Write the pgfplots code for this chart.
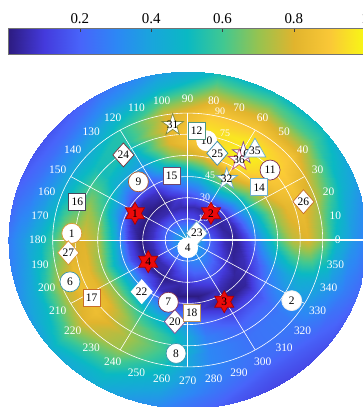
\documentclass[border=0pt]{standalone}
\usepackage{fontspec}
\setmainfont{Liberation Serif}
\usepackage{pgfplots}
\pgfplotsset{compat=1.18}
\usepackage{pgfplotstable}

\pgfplotsset{colormap={parulaimg}{
rgb255(0cm)=(45,28,130); rgb255(1cm)=(68,58,220); rgb255(2cm)=(72,100,250);
rgb255(3cm)=(45,135,245); rgb255(4cm)=(25,165,220); rgb255(5cm)=(10,185,195);
rgb255(6cm)=(65,200,145); rgb255(7cm)=(150,195,80); rgb255(8cm)=(225,180,45);
rgb255(9cm)=(250,200,55); rgb255(10cm)=(248,248,20)}}

\definecolor{eOlive}{RGB}{130,140,60}
\definecolor{eTeal}{RGB}{80,150,130}
\definecolor{eBlue}{RGB}{60,140,170}
\definecolor{eLBlue}{RGB}{110,175,205}
\definecolor{eMaroon}{RGB}{130,50,80}
\definecolor{ePink}{RGB}{200,90,130}
\definecolor{ePurple}{RGB}{130,80,150}
\definecolor{eOrange}{RGB}{200,110,40}
\definecolor{eBrown}{RGB}{170,90,50}
\definecolor{eWine}{RGB}{120,50,60}
\definecolor{eDark}{RGB}{70,70,90}
\definecolor{eGold}{RGB}{220,150,50}
\definecolor{eCyan}{RGB}{60,150,170}
\definecolor{eTan}{RGB}{190,150,90}
\definecolor{eViolet}{RGB}{110,70,110}
\definecolor{hexRed}{RGB}{235,10,10}
\definecolor{hexEdge}{RGB}{170,0,0}

\newcommand\numfont{\fontsize{11.5}{11.5}\selectfont}
\newcommand\anglefont{\fontsize{11.5}{11.5}\selectfont}
\newcommand\rfont{\fontsize{10}{10}\selectfont}
\newcommand\cbfont{\fontsize{15}{15}\selectfont}

\pgfdeclareplotmark{pent*}{%
  \pgfpathmoveto{\pgfpointpolar{90}{\pgfplotmarksize}}%
  \pgfpathlineto{\pgfpointpolar{126}{0.382\pgfplotmarksize}}%
  \pgfpathlineto{\pgfpointpolar{162}{\pgfplotmarksize}}%
  \pgfpathlineto{\pgfpointpolar{198}{0.382\pgfplotmarksize}}%
  \pgfpathlineto{\pgfpointpolar{234}{\pgfplotmarksize}}%
  \pgfpathlineto{\pgfpointpolar{270}{0.382\pgfplotmarksize}}%
  \pgfpathlineto{\pgfpointpolar{306}{\pgfplotmarksize}}%
  \pgfpathlineto{\pgfpointpolar{342}{0.382\pgfplotmarksize}}%
  \pgfpathlineto{\pgfpointpolar{18}{\pgfplotmarksize}}%
  \pgfpathlineto{\pgfpointpolar{54}{0.382\pgfplotmarksize}}%
  \pgfpathclose\pgfusepathqfillstroke}
\pgfdeclareplotmark{hex*}{%
  \pgfpathmoveto{\pgfpointpolar{90}{\pgfplotmarksize}}%
  \pgfpathlineto{\pgfpointpolar{120}{0.577\pgfplotmarksize}}%
  \pgfpathlineto{\pgfpointpolar{150}{\pgfplotmarksize}}%
  \pgfpathlineto{\pgfpointpolar{180}{0.577\pgfplotmarksize}}%
  \pgfpathlineto{\pgfpointpolar{210}{\pgfplotmarksize}}%
  \pgfpathlineto{\pgfpointpolar{240}{0.577\pgfplotmarksize}}%
  \pgfpathlineto{\pgfpointpolar{270}{\pgfplotmarksize}}%
  \pgfpathlineto{\pgfpointpolar{300}{0.577\pgfplotmarksize}}%
  \pgfpathlineto{\pgfpointpolar{330}{\pgfplotmarksize}}%
  \pgfpathlineto{\pgfpointpolar{0}{0.577\pgfplotmarksize}}%
  \pgfpathlineto{\pgfpointpolar{30}{\pgfplotmarksize}}%
  \pgfpathlineto{\pgfpointpolar{60}{0.577\pgfplotmarksize}}%
  \pgfpathclose\pgfusepathqfillstroke}
\pgfdeclareplotmark{diam*}{%
  \pgfpathmoveto{\pgfqpoint{0pt}{\pgfplotmarksize}}%
  \pgfpathlineto{\pgfqpoint{0.88\pgfplotmarksize}{0pt}}%
  \pgfpathlineto{\pgfqpoint{0pt}{-\pgfplotmarksize}}%
  \pgfpathlineto{\pgfqpoint{-0.88\pgfplotmarksize}{0pt}}%
  \pgfpathclose\pgfusepathqfillstroke}

% shape, size, edge, fill, theta, r, label
\newcommand{\mk}[7]{%
\addplot[only marks, data cs=polar, mark=#1, mark size=#2bp, draw=#3, fill=#4, line width=0.7bp, mark options={solid}, forget plot] coordinates {(#5,#6)};
\addplot[only marks, data cs=polar, mark=text, text mark={#7}, text mark as node=true, text mark style={font=\numfont, text=black, inner sep=0pt}, color=black, forget plot] coordinates {(#5,#6)};
}

% polar heat field: angle t (deg), radius r, value v
\pgfplotstableread{
t r v
0 0 .45
0 8 .35
0 16 .18
0 24 .06
0 32 .02
0 40 .13
0 50 .38
0 60 .60
0 70 .75
0 80 .80
0 90 .68
0 100 .47
0 110 .35
0 122 .25
20 0 .45
20 8 .33
20 16 .13
20 24 .03
20 32 .06
20 40 .25
20 50 .50
20 60 .70
20 70 .82
20 80 .85
20 90 .75
20 100 .60
20 110 .45
20 122 .35
40 0 .45
40 8 .32
40 16 .10
40 24 .03
40 32 .12
40 40 .35
40 50 .62
40 60 .82
40 70 .90
40 80 .92
40 90 .88
40 100 .75
40 110 .60
40 122 .48
60 0 .45
60 8 .32
60 16 .09
60 24 .03
60 32 .20
60 40 .48
60 50 .75
60 60 .95
60 70 1.0
60 80 .97
60 90 .90
60 100 .80
60 110 .65
60 122 .48
80 0 .45
80 8 .32
80 16 .13
80 24 .05
80 32 .18
80 40 .35
80 50 .55
80 60 .80
80 70 .92
80 80 .95
80 90 .90
80 100 .80
80 110 .65
80 122 .50
100 0 .45
100 8 .32
100 16 .14
100 24 .05
100 32 .10
100 40 .25
100 50 .40
100 60 .68
100 70 .80
100 80 .82
100 90 .78
100 100 .62
100 110 .45
100 122 .35
120 0 .45
120 8 .33
120 16 .15
120 24 .05
120 32 .01
120 40 .08
120 50 .22
120 60 .35
120 70 .45
120 80 .55
120 90 .55
120 100 .45
120 110 .32
120 122 .22
140 0 .45
140 8 .33
140 16 .18
140 24 .05
140 32 .0
140 40 .04
140 50 .22
140 60 .42
140 70 .52
140 80 .52
140 90 .42
140 100 .32
140 110 .22
140 122 .15
160 0 .45
160 8 .33
160 16 .20
160 24 .07
160 32 .0
160 40 .06
160 50 .35
160 60 .60
160 70 .70
160 80 .58
160 90 .46
160 100 .34
160 110 .25
160 122 .18
180 0 .45
180 8 .33
180 16 .20
180 24 .07
180 32 .0
180 40 .12
180 50 .48
180 60 .72
180 70 .80
180 80 .78
180 90 .60
180 100 .46
180 110 .36
180 122 .25
200 0 .45
200 8 .33
200 16 .20
200 24 .05
200 32 .01
200 40 .15
200 50 .45
200 60 .68
200 70 .82
200 80 .85
200 90 .75
200 100 .58
200 110 .42
200 122 .32
220 0 .45
220 8 .33
220 16 .20
220 24 .05
220 32 .03
220 40 .20
220 50 .48
220 60 .68
220 70 .82
220 80 .85
220 90 .80
220 100 .68
220 110 .55
220 122 .42
240 0 .45
240 8 .33
240 16 .18
240 24 .06
240 32 .01
240 40 .07
240 50 .35
240 60 .55
240 70 .66
240 80 .72
240 90 .70
240 100 .60
240 110 .50
240 122 .42
260 0 .45
260 8 .33
260 16 .24
260 24 .14
260 32 .04
260 40 .0
260 50 .18
260 60 .42
260 70 .55
260 80 .58
260 90 .52
260 100 .45
260 110 .38
260 122 .30
280 0 .45
280 8 .35
280 16 .28
280 24 .20
280 32 .10
280 40 .0
280 50 .08
280 60 .22
280 70 .28
280 80 .30
280 90 .30
280 100 .28
280 110 .24
280 122 .18
300 0 .45
300 8 .36
300 16 .30
300 24 .22
300 32 .15
300 40 .06
300 50 .0
300 60 .12
300 70 .20
300 80 .24
300 90 .24
300 100 .22
300 110 .17
300 122 .12
320 0 .45
320 8 .36
320 16 .28
320 24 .18
320 32 .10
320 40 .03
320 50 .03
320 60 .15
320 70 .22
320 80 .26
320 90 .26
320 100 .24
320 110 .19
320 122 .14
340 0 .45
340 8 .35
340 16 .20
340 24 .09
340 32 .02
340 40 .06
340 50 .18
340 60 .32
340 70 .40
340 80 .45
340 90 .42
340 100 .35
340 110 .27
340 122 .20
360 0 .45
360 8 .35
360 16 .18
360 24 .06
360 32 .02
360 40 .13
360 50 .38
360 60 .60
360 70 .75
360 80 .80
360 90 .68
360 100 .47
360 110 .35
360 122 .25
}\heat

\begin{document}
\begin{tikzpicture}
\useasboundingbox (0,0) rectangle (363bp,407bp);
\clip (0,0) rectangle (363bp,407bp);
\coordinate (C) at (187.7bp,167bp);

% heat disk
\begin{scope}
\clip (C) ellipse [x radius=179.5bp, y radius=168.5bp];
\begin{axis}[at={(187.7bp,167bp)}, anchor=center, scale only axis,
  width=375bp, height=352.5bp, xmin=-125, xmax=125, ymin=-125, ymax=125,
  hide axis, colormap name=parulaimg, point meta min=0, point meta max=1]
\addplot[surf, shader=interp, mesh/rows=19, mesh/cols=14, point meta=\thisrow{v}]
  table[x expr={\thisrow{r}*cos(\thisrow{t})}, y expr={\thisrow{r}*sin(\thisrow{t})}] {\heat};
\end{axis}
\end{scope}

% polar grid
\foreach \k in {1,...,6}
  \draw[white, line width=0.6bp] (C) ellipse [x radius={22.5bp*\k}, y radius={21.15bp*\k}];
\foreach \a in {30,60,...,330}
  \draw[white, line width=0.6bp] (C) -- ++(\a:135bp and 126.9bp);
\draw[white, line width=1.5bp] (C) -- ++(200bp,0);
\foreach \a in {0,10,...,350}
  \node[text=white, font=\anglefont, inner sep=0pt] at ([shift={(\a:150bp and 141bp)}]C) {\a};
\node[text=white, font=\rfont, inner sep=0pt] at (203.3bp,188.7bp) {15};
\node[text=white, font=\rfont, inner sep=0pt] at (205bp,210bp) {30};
\node[text=white, font=\rfont, inner sep=0pt] at (210bp,232bp) {45};
\node[text=white, font=\rfont, inner sep=0pt] at (217.6bp,253.5bp) {60};
\node[text=white, font=\rfont, inner sep=0pt] at (225bp,273.7bp) {75};
\node[text=white, font=\rfont, inner sep=0pt] at (220bp,295.3bp) {90};

% markers
\begin{axis}[at={(187.7bp,167bp)}, anchor=center, scale only axis,
  width=375bp, height=352.5bp, xmin=-125, xmax=125, ymin=-125, ymax=125,
  hide axis, clip=false]
\mk{pent*}{11.5}{eOlive}{white}{97.0}{82.2}{31}
\mk{*}{10}{white}{white}{79.8}{71.5}{10}
\mk{square*}{8.5}{eTeal}{white}{85.6}{77.7}{12}
\mk{diam*}{12}{eBlue}{white}{72.2}{64.6}{25}
\mk{pent*}{11.5}{ePurple}{white}{58.9}{71.8}{16}
\mk{pent*}{11.5}{ePink}{white}{58.8}{66.3}{36}
\mk{triangle*}{12.5}{eLBlue}{white}{54.7}{77.6}{35}
\mk{*}{10}{eMaroon}{white}{42.1}{74.0}{11}
\mk{square*}{8.5}{eLBlue}{white}{38.1}{60.6}{14}
\mk{pent*}{11.5}{eLBlue}{white}{59.0}{50.5}{32}
\mk{diam*}{12}{eOrange}{white}{19.4}{81.8}{26}
\mk{hex*}{11}{hexEdge}{hexRed}{50.7}{24.5}{2}
\mk{hex*}{11}{hexEdge}{hexRed}{151.7}{39.9}{1}
\mk{diam*}{12}{eLBlue}{white}{38.4}{7.7}{23}
\mk{*}{10}{white}{white}{270}{5.5}{4}
\mk{hex*}{11}{hexEdge}{hexRed}{210.3}{30.5}{4}
\mk{hex*}{11}{hexEdge}{hexRed}{299.1}{50.1}{3}
\mk{square*}{8.5}{eViolet}{white}{103.3}{46.6}{15}
\mk{*}{10}{eBrown}{white}{128.5}{52.8}{9}
\mk{diam*}{12}{eWine}{white}{125.4}{74.0}{24}
\mk{square*}{8.5}{eDark}{white}{159.7}{78.5}{16}
\mk{*}{10}{eGold}{white}{176.5}{77.4}{1}
\mk{diam*}{12}{eGold}{white}{186.5}{80.1}{27}
\mk{*}{10}{eCyan}{white}{200.7}{83.9}{6}
\mk{square*}{8.5}{eOrange}{white}{212.8}{76.2}{17}
\mk{diam*}{12}{white}{white}{230.1}{47.8}{22}
\mk{diam*}{12}{ePurple}{white}{261.6}{58.5}{20}
\mk{*}{10}{eMaroon}{white}{253.7}{46.0}{7}
\mk{square*}{8.5}{eTan}{white}{273}{51.4}{18}
\mk{*}{10}{eCyan}{white}{264.5}{80.8}{8}
\mk{*}{10}{white!85!gray}{white}{328.2}{81.6}{2}
\end{axis}

% colorbar
\begin{axis}[at={(8.5bp,352.3bp)}, anchor=south west, scale only axis,
  width=356.7bp, height=26.7bp, xmin=0, xmax=1, ymin=0, ymax=1,
  colormap name=parulaimg, point meta min=0, point meta max=1,
  xtick={0.2,0.4,0.6,0.8,1}, xticklabels={0.2,0.4,0.6,0.8,1}, ytick=\empty,
  xtick pos=upper, xticklabel pos=upper, tick align=inside, major tick length=4bp,
  axis line style={draw=black!55, line width=0.5bp},
  every tick/.style={black!75, line width=0.6bp},
  xticklabel style={font=\cbfont, yshift=1bp}, axis on top]
\addplot[surf, shader=interp, mesh/rows=2, point meta=x] coordinates {
(0,0) (0.1,0) (0.2,0) (0.3,0) (0.4,0) (0.5,0) (0.6,0) (0.7,0) (0.8,0) (0.9,0) (1,0)
(0,1) (0.1,1) (0.2,1) (0.3,1) (0.4,1) (0.5,1) (0.6,1) (0.7,1) (0.8,1) (0.9,1) (1,1)};
\end{axis}
\end{tikzpicture}
\end{document}
